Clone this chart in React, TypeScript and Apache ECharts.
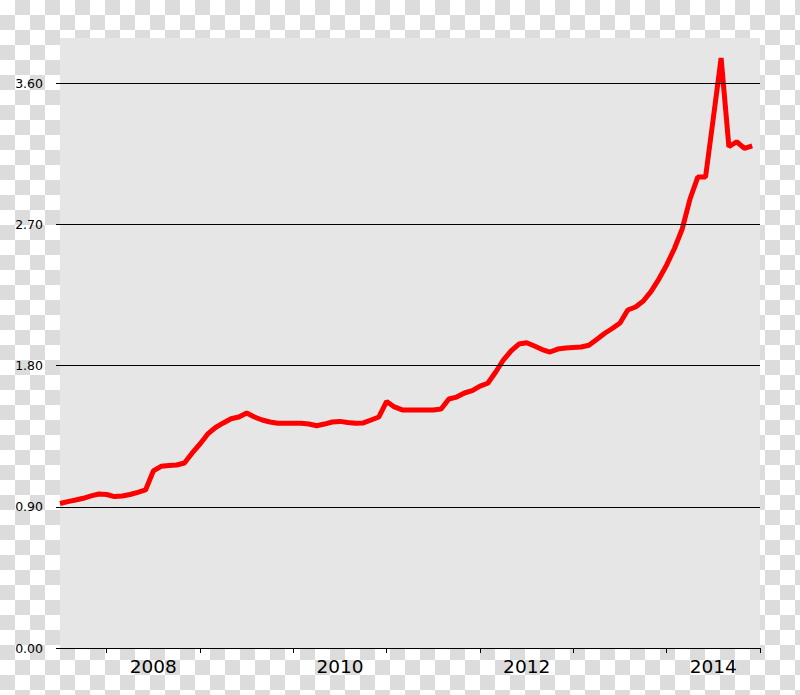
import React, { useEffect, useRef } from "react";
import * as echarts from "echarts";

const months: string[] = [
  "2007-07", "2007-08", "2007-09", "2007-10", "2007-11", "2007-12",
  "2008-01", "2008-02", "2008-03", "2008-04", "2008-05", "2008-06",
  "2008-07", "2008-08", "2008-09", "2008-10", "2008-11", "2008-12",
  "2009-01", "2009-02", "2009-03", "2009-04", "2009-05", "2009-06",
  "2009-07", "2009-08", "2009-09", "2009-10", "2009-11", "2009-12",
  "2010-01", "2010-02", "2010-03", "2010-04", "2010-05", "2010-06",
  "2010-07", "2010-08", "2010-09", "2010-10", "2010-11", "2010-12",
  "2011-01", "2011-02", "2011-03", "2011-04", "2011-05", "2011-06",
  "2011-07", "2011-08", "2011-09", "2011-10", "2011-11", "2011-12",
  "2012-01", "2012-02", "2012-03", "2012-04", "2012-05", "2012-06",
  "2012-07", "2012-08", "2012-09", "2012-10", "2012-11", "2012-12",
  "2013-01", "2013-02", "2013-03", "2013-04", "2013-05", "2013-06",
  "2013-07", "2013-08", "2013-09", "2013-10", "2013-11", "2013-12",
  "2014-01", "2014-02", "2014-03", "2014-04", "2014-05", "2014-06",
  "2014-07", "2014-08", "2014-09", "2014-10", "2014-11", "2014-12",
];

const values: number[] = [
  0.921, 0.933, 0.943, 0.954, 0.969, 0.981,
  0.978, 0.965, 0.969, 0.978, 0.992, 1.007,
  1.128, 1.158, 1.163, 1.166, 1.179, 1.243,
  1.300, 1.364, 1.405, 1.434, 1.461, 1.472,
  1.497, 1.472, 1.453, 1.440, 1.432, 1.432,
  1.432, 1.432, 1.427, 1.416, 1.427, 1.440,
  1.444, 1.437, 1.432, 1.434, 1.453, 1.472,
  1.571, 1.536, 1.517, 1.517, 1.517, 1.517,
  1.517, 1.523, 1.587, 1.599, 1.625, 1.640,
  1.669, 1.687, 1.757, 1.835, 1.893, 1.937,
  1.945, 1.924, 1.902, 1.886, 1.905, 1.912,
  1.915, 1.918, 1.929, 1.966, 2.004, 2.036,
  2.071, 2.154, 2.173, 2.211, 2.272, 2.351,
  2.441, 2.546, 2.670, 2.861, 3.001, 3.001,
  3.377, 3.759, 3.194, 3.226, 3.184, 3.199,
];

const yTicks: number[] = [0, 0.9, 1.8, 2.7, 3.6];
const yearTicks: number[] = [2008, 2009, 2010, 2011, 2012, 2013, 2014, 2015];
const yearLabels: number[] = [2008, 2010, 2012, 2014];

const FONT = "DejaVu Sans";

function monthToYear(m: string): number {
  const [y, mo] = m.split("-").map(Number);
  return y + (mo - 1) / 12;
}

export default function App() {
  const ref = useRef<HTMLDivElement>(null);

  useEffect(() => {
    if (!ref.current) return;
    const chart = echarts.init(ref.current, null, { renderer: "svg" });
    const data = months.map((m, i) => [monthToYear(m), values[i]]);
    chart.setOption({
      animation: false,
      grid: {
        left: 60,
        right: 40,
        top: 38,
        bottom: 47,
        show: true,
        backgroundColor: "#e6e6e6",
        borderWidth: 0,
      },
      xAxis: {
        type: "value",
        min: 2007.5,
        max: 2015,
        axisLine: { show: true, onZero: false, lineStyle: { color: "#000", width: 1 } },
        axisTick: {
          show: true,
          length: 5,
          customValues: yearTicks,
          lineStyle: { color: "#000", width: 1 },
        },
        axisLabel: {
          customValues: yearLabels.map((y) => y + 0.5),
          formatter: (v: number) => String(Math.floor(v)),
          fontFamily: FONT,
          fontSize: 18.5,
          color: "#000",
          margin: 9,
        },
        splitLine: { show: false },
      },
      yAxis: {
        type: "value",
        min: 0,
        max: 3.887,
        axisLine: { show: false },
        axisTick: {
          show: true,
          length: 4,
          customValues: yTicks,
          lineStyle: { color: "#000", width: 1 },
        },
        axisLabel: {
          customValues: yTicks,
          formatter: (v: number) => v.toFixed(2),
          fontFamily: FONT,
          fontSize: 12.5,
          color: "#000",
          margin: 17,
        },
        splitLine: { show: false },
      },
      series: [
        {
          type: "line",
          data: [],
          z: 1,
          silent: true,
          markLine: {
            silent: true,
            symbol: ["none", "none"],
            label: { show: false },
            lineStyle: { color: "#000", width: 1, type: "solid" },
            emphasis: { disabled: true },
            data: yTicks.filter((v) => v > 0).map((v) => ({ yAxis: v })),
          },
        },
        {
          type: "line",
          data,
          z: 3,
          symbol: "none",
          showSymbol: false,
          lineStyle: { color: "#ff0000", width: 5 },
        },
      ],
    });
    return () => chart.dispose();
  }, []);

  return (
    <div
      ref={ref}
      style={{
        position: "absolute",
        left: 0,
        top: 0,
        width: 800,
        height: 695,
        backgroundImage:
          "conic-gradient(#dcdcdc 0 25%, #ffffff 0 50%, #dcdcdc 0 75%, #ffffff 0)",
        backgroundSize: "30px 30px",
      }}
    />
  );
}
